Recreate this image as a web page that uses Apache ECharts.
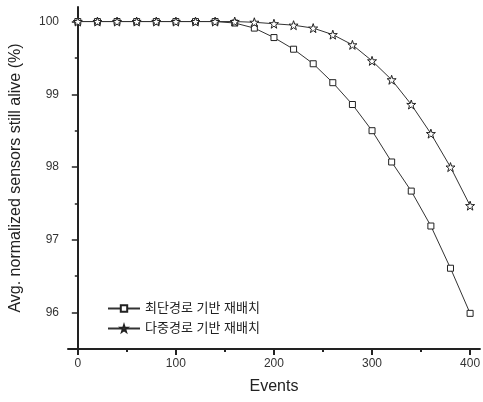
<!DOCTYPE html>
<html><head><meta charset="utf-8">
<script src="https://cdn.jsdelivr.net/npm/echarts@6/dist/echarts.min.js"></script>
<style>html,body{margin:0;padding:0;background:#fff}#c{width:483px;height:402px}</style>
</head><body><div id="c"></div>
<script>
const events = [0,20,40,60,80,100,120,140,160,180,200,220,240,260,280,300,320,340,360,380,400];
const shortestPath = [100,100,100,100,100,100,100,100,99.98,99.91,99.78,99.62,99.42,99.16,98.86,98.50,98.07,97.67,97.19,96.61,95.99];
const multiPath = [100,100,100,100,100,100,100,100,100,99.99,99.97,99.95,99.91,99.82,99.68,99.46,99.20,98.86,98.46,98.00,97.47];
const seriesNames = ['최단경로 기반 재배치','다중경로 기반 재배치'];
const xTicks = [0,100,200,300,400];
const xMinorTicks = [50,150,250,350];
const yTicks = [96,97,98,99,100];
const yMinorTicks = [96.5,97.5,98.5,99.5];

const star = 'path://M50,0 L61.8,35.1 L97.6,34.5 L69,56.9 L79.4,90.5 L50,70 L20.6,90.5 L31,56.9 L2.4,34.5 L38.2,35.1 Z';
const font = '"Liberation Sans", Arial, "Noto Sans CJK KR", sans-serif';
const chart = echarts.init(document.getElementById('c'), null, {renderer:'canvas'});
const mk = (arr) => events.map((e,i)=>[e,arr[i]]);
const X = {min:-10, max:410};
const Y = {min:95.5, max:100.2};
chart.setOption({
  animation:false,
  backgroundColor:'#fff',
  grid:{left:63,right:2,top:7,bottom:53,containLabel:false},
  legend:{
    orient:'vertical', left:102, top:297, itemGap:7, itemWidth:32, itemHeight:8,
    textStyle:{fontFamily:font, fontSize:13, color:'#222'},
    data: seriesNames
  },
  xAxis:[{
    type:'value', min:X.min, max:X.max, interval:100,
    name:'Events', nameLocation:'middle', nameGap:30,
    nameTextStyle:{fontFamily:font, fontSize:16, color:'#222'},
    axisLine:{lineStyle:{color:'#222', width:2}},
    axisTick:{show:true, length:6, lineStyle:{color:'#222', width:2}, customValues: xTicks},
    axisLabel:{fontFamily:font, fontSize:12, color:'#333', margin:9, customValues: xTicks},
    splitLine:{show:false}
  },{
    type:'value', min:X.min, max:X.max, interval:50, position:'bottom',
    axisLine:{show:false},
    axisTick:{show:true, length:3, lineStyle:{color:'#222', width:2}, customValues: xMinorTicks},
    axisLabel:{show:false}, splitLine:{show:false}
  }],
  yAxis:[{
    type:'value', min:Y.min, max:Y.max, interval:0.5,
    name:'Avg. normalized sensors still alive (%)', nameLocation:'middle', nameGap:44,
    nameTextStyle:{fontFamily:font, fontSize:16, color:'#222'},
    axisLine:{lineStyle:{color:'#222', width:2}},
    axisTick:{show:true, length:6, lineStyle:{color:'#222', width:1.5}, customValues: yTicks},
    axisLabel:{fontFamily:font, fontSize:12, color:'#333', margin:9, customValues: yTicks},
    splitLine:{show:false}
  },{
    type:'value', min:Y.min, max:Y.max, interval:0.5, position:'left',
    axisLine:{show:false},
    axisTick:{show:true, length:3, lineStyle:{color:'#222', width:1.5}, customValues: yMinorTicks},
    axisLabel:{show:false}, splitLine:{show:false}
  }],
  series:[
    {name:seriesNames[0], type:'line', data:mk(shortestPath), symbol:'rect', symbolSize:6,
     lineStyle:{color:'#333', width:1}, itemStyle:{color:'#fff', borderColor:'#222', borderWidth:1}},
    {name:seriesNames[1], type:'line', data:mk(multiPath), symbol:star, symbolSize:9,
     lineStyle:{color:'#333', width:1}, itemStyle:{color:'#fff', borderColor:'#222', borderWidth:1}}
  ]
});
</script></body></html>
